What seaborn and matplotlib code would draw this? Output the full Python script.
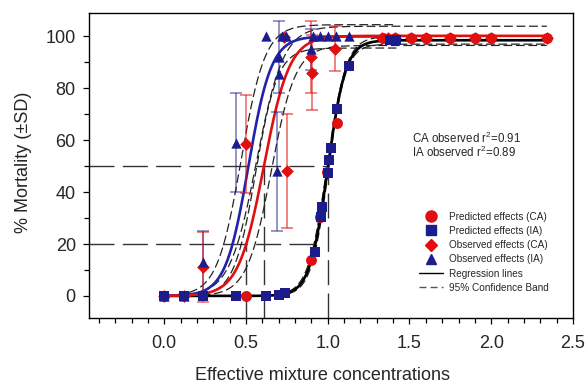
import numpy as np
import pandas as pd
import matplotlib
matplotlib.use("Agg")
import matplotlib.pyplot as plt
from matplotlib.ticker import MultipleLocator, FixedLocator
from matplotlib.lines import Line2D
import seaborn as sns

# ---- data -------------------------------------------------------------
# Predicted effects, concentration addition (CA)
pred_ca_x = [0.0, 0.5, 0.895, 0.95, 0.996, 1.057, 1.34, 1.41, 1.51, 1.60, 1.75, 1.90, 2.00, 2.34]
pred_ca_y = [0.0, 0.0, 13.8, 30.5, 47.8, 66.7, 99.5, 99.5, 99.5, 99.5, 99.5, 99.5, 99.5, 99.5]

# Predicted effects, independent action (IA)
pred_ia_x = [0.0, 0.12, 0.24, 0.44, 0.62, 0.70, 0.74, 0.92, 0.96, 0.965, 1.0, 1.006, 1.017, 1.057, 1.128, 1.38, 1.42]
pred_ia_y = [0.0, 0.0, 0.0, 0.0, 0.0, 0.5, 1.0, 17.0, 30.5, 34.3, 47.4, 52.3, 56.8, 72.2, 88.6, 98.5, 98.5]

# Observed effects (CA mixtures), mean and SD
obs_ca_x = [0.0, 0.12, 0.24, 0.50, 0.73, 0.75, 0.896, 0.905, 1.047, 1.33, 1.37, 1.41, 1.51, 1.60, 1.75, 1.90, 2.00, 2.34]
obs_ca_y = [0.0, 0.0, 11.0, 58.5, 99.7, 48.0, 92.0, 86.0, 95.3, 99.5, 99.5, 99.5, 99.5, 99.5, 99.5, 99.5, 99.5, 99.5]
obs_ca_sd = [0.0, 0.0, 13.5, 19.0, 0.0, 22.0, 14.0, 14.5, 8.5, 0.0, 0.0, 0.0, 0.0, 0.0, 0.0, 0.0, 0.0, 0.0]

# Observed effects (IA mixtures), mean and SD
obs_ia_x = [0.0, 0.12, 0.235, 0.437, 0.62, 0.69, 0.70, 0.70, 0.72, 0.745, 0.90, 0.91, 0.95, 1.0, 1.05, 1.13]
obs_ia_y = [0.0, 0.0, 13.0, 59.0, 100.0, 48.0, 92.0, 85.6, 100.0, 100.0, 95.0, 100.0, 100.0, 100.0, 100.0, 100.0]
obs_ia_sd = [0.0, 0.0, 12.0, 19.0, 0.0, 23.0, 14.0, 0.0, 0.0, 0.0, 8.0, 0.0, 0.0, 0.0, 0.0, 0.0]

# Fitted sigmoid regressions: top, midpoint x0, slope width b, x-range
fit_ca_obs = dict(top=100.2, x0=0.61, b=0.078, xmax=2.34)
fit_ia_obs = dict(top=100.0, x0=0.515, b=0.070, xmax=1.42)
fit_pred = dict(top=98.5, x0=1.00, b=0.055, xmax=2.34)
# 95% confidence band offsets: (top offset, midpoint offset)
band_ca_obs = (3.7, 0.045)
band_ia_obs = (4.5, 0.045)
band_pred = (1.5, 0.004)

RED = "#e01010"
NAVY = "#1c1c8c"
BLUE_LINE = "#2222aa"


def sigmoid(x, top, x0, b):
    return top / (1.0 + np.exp(-(x - x0) / b))


def ec(level, top, x0, b):
    # concentration giving `level` % effect
    return x0 - b * np.log(top / level - 1.0)


# ---- figure -----------------------------------------------------------
sns.set_style("ticks")
plt.rcParams["font.family"] = ["Liberation Sans", "DejaVu Sans"]
plt.rcParams["mathtext.default"] = "regular"

fig = plt.figure(figsize=(5.87, 3.83), dpi=100)
ax = fig.add_axes([89 / 587, 1 - 318 / 383, 484 / 587, 305 / 383])

xmin, xmax = -0.46, 2.5
ymin, ymax = -8.5, 109.0

# reference lines at EC20 / EC50
ref_style = dict(color="#333333", lw=1.0, dashes=(18, 6), zorder=1)
x50_pred = ec(50, fit_pred["top"], fit_pred["x0"], fit_pred["b"])
x20_pred = ec(20, fit_pred["top"], fit_pred["x0"], fit_pred["b"])
x50_ca = ec(50, fit_ca_obs["top"], fit_ca_obs["x0"], fit_ca_obs["b"])
x20_ca = ec(20, fit_ca_obs["top"], fit_ca_obs["x0"], fit_ca_obs["b"])
ax.plot([xmin, x50_pred], [50, 50], **ref_style)
ax.plot([xmin, x20_pred], [20, 20], **ref_style)
ax.plot([x20_ca, x20_ca], [ymin, 20], **ref_style)
ax.plot([x50_ca, x50_ca], [ymin, 50], **ref_style)
ax.plot([x50_pred, x50_pred], [ymin, 50], **ref_style)

# confidence bands and regression lines
for fit, band, color in [(fit_pred, band_pred, "black"),
                         (fit_ia_obs, band_ia_obs, BLUE_LINE),
                         (fit_ca_obs, band_ca_obs, RED)]:
    xs = np.linspace(0.0, fit["xmax"], 400)
    dt, dx = band
    up = sigmoid(xs, fit["top"] + dt, fit["x0"] - dx, fit["b"] * 1.05)
    lo = sigmoid(xs, fit["top"] - dt, fit["x0"] + dx, fit["b"] * 0.95)
    for yb in (up, lo):
        sns.lineplot(x=xs, y=yb, ax=ax, color="#222222", lw=0.9,
                     dashes=False, zorder=2).lines[-1].set_dashes((7, 3))
    sns.lineplot(x=xs, y=sigmoid(xs, fit["top"], fit["x0"], fit["b"]), ax=ax,
                 color=color, lw=1.9, zorder=3)

# SD error bars
ca_bar = np.array(obs_ca_sd) > 0
ia_bar = np.array(obs_ia_sd) > 0
ax.errorbar(np.array(obs_ia_x)[ia_bar], np.array(obs_ia_y)[ia_bar],
            yerr=np.array(obs_ia_sd)[ia_bar], fmt="none", ecolor=NAVY,
            alpha=0.55, elinewidth=1.2, capsize=4.5, capthick=1.2, zorder=4)
ax.errorbar(np.array(obs_ca_x)[ca_bar], np.array(obs_ca_y)[ca_bar],
            yerr=np.array(obs_ca_sd)[ca_bar], fmt="none", ecolor=RED,
            alpha=0.6, elinewidth=1.2, capsize=4.5, capthick=1.2, zorder=4)

# markers
pts = dict(ax=ax, linewidth=0, legend=False, zorder=5)
sns.scatterplot(x=obs_ca_x, y=obs_ca_y, marker="D", s=42, color=RED, **pts)
sns.scatterplot(x=pred_ca_x, y=pred_ca_y, marker="o", s=62, color=RED, **pts)
sns.scatterplot(x=pred_ia_x, y=pred_ia_y, marker="s", s=50, color=NAVY, **pts)
sns.scatterplot(x=obs_ia_x, y=obs_ia_y, marker="^", s=55, color=NAVY, **pts)

# axes
ax.set_xlim(xmin, xmax)
ax.set_ylim(ymin, ymax)
ax.xaxis.set_major_locator(FixedLocator([0.0, 0.5, 1.0, 1.5, 2.0, 2.5]))
ax.xaxis.set_minor_locator(FixedLocator(np.round(np.arange(-0.4, 2.51, 0.1), 2)))
ax.yaxis.set_major_locator(MultipleLocator(20))
ax.yaxis.set_minor_locator(MultipleLocator(10))
ax.set_xticklabels(["0.0", "0.5", "1.0", "1.5", "2.0", "2.5"])
ax.tick_params(which="major", length=4.5, width=0.9, labelsize=13, color="black")
ax.tick_params(axis="x", which="major", pad=8)
ax.tick_params(axis="y", which="major", pad=5)
ax.tick_params(which="minor", length=3.5, width=0.9, color="black")
for s in ax.spines.values():
    s.set_visible(True)
    s.set_linewidth(1.0)
    s.set_color("black")

ax.set_xlabel("Effective mixture concentrations", fontsize=13)
ax.set_ylabel("% Mortality (\u00b1SD)", fontsize=13)
ax.xaxis.set_label_coords(0.482, -0.160)
ax.yaxis.set_label_coords(-0.118, 0.512)

ax.text(0.667, 0.590, "CA observed r$^{2}$=0.91", transform=ax.transAxes,
        fontsize=8.3, va="center", ha="left")
ax.text(0.667, 0.542, "IA observed r$^{2}$=0.89", transform=ax.transAxes,
        fontsize=8.3, va="center", ha="left")

handles = [
    Line2D([], [], ls="none", marker="o", ms=8, color=RED),
    Line2D([], [], ls="none", marker="s", ms=7, color=NAVY),
    Line2D([], [], ls="none", marker="D", ms=6.5, color=RED),
    Line2D([], [], ls="none", marker="^", ms=7.5, color=NAVY),
    Line2D([], [], color="black", lw=1.0),
    Line2D([], [], color="#555555", lw=1.0, dashes=(5, 3)),
]
labels = ["Predicted effects (CA)", "Predicted effects (IA)",
          "Observed effects (CA)", "Observed effects (IA)",
          "Regression lines", "95% Confidence Band"]
ax.legend(handles, labels, loc="upper left", bbox_to_anchor=(0.677, 0.355),
          frameon=False, fontsize=7.2, handlelength=2.4, handletextpad=0.6,
          labelspacing=0.42, borderpad=0.2, borderaxespad=0.0)

fig.savefig("out.png", dpi=100)
